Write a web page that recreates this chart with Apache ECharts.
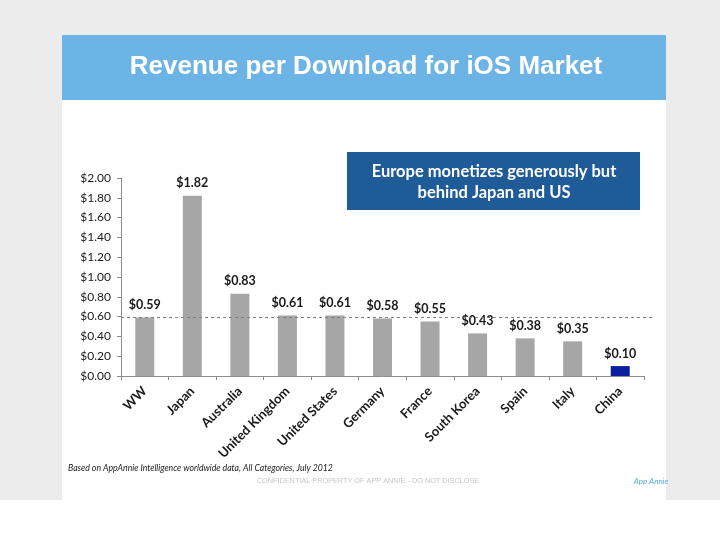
<!DOCTYPE html>
<html>
<head>
<meta charset="utf-8">
<script src="https://cdn.jsdelivr.net/npm/echarts@6/dist/echarts.min.js"></script>
<style>html,body{margin:0;padding:0;background:#fff}#c{width:720px;height:540px}</style>
</head>
<body>
<div id="c"></div>
<script>
const categories = ['WW','Japan','Australia','United Kingdom','United States','Germany','France','South Korea','Spain','Italy','China'];
const revenue = [0.59,1.82,0.83,0.61,0.61,0.58,0.55,0.43,0.38,0.35,0.10];
const highlight = 'China';
const wwAverage = 0.59;

const chart = echarts.init(document.getElementById('c'), null, {renderer:'canvas'});
const font = 'Lato, "Open Sans", sans-serif';
chart.setOption({
  animation:false,
  backgroundColor:'#ffffff',
  graphic:[
    {type:'rect', z:-10, shape:{x:0,y:0,width:720,height:500}, style:{fill:'#ececec'}},
    {type:'rect', z:-9, shape:{x:62,y:35,width:604,height:465}, style:{fill:'#ffffff'}},
    {type:'rect', z:-8, shape:{x:62,y:35,width:604,height:65}, style:{fill:'#6cb3e6'}},
    {type:'text', x:366, y:67, style:{text:'Revenue per Download for iOS Market', fill:'#ffffff', font:'bold 26px "Liberation Sans", Arial, sans-serif', align:'center', verticalAlign:'middle'}},
    {type:'rect', shape:{x:347,y:152,width:293,height:58}, style:{fill:'#1f5b96'}},
    {type:'text', x:494, y:182, style:{text:'Europe monetizes generously but\nbehind Japan and US', fill:'#ffffff', font:'bold 16.5px '+font, align:'center', verticalAlign:'middle', lineHeight:21}},
    {type:'text', x:68, y:468, style:{text:'Based on AppAnnie Intelligence worldwide data, All Categories, July 2012', fill:'#222', font:'italic 8.7px '+font, verticalAlign:'middle'}},
    {type:'text', x:368, y:481, style:{text:'CONFIDENTIAL PROPERTY OF APP ANNIE - DO NOT DISCLOSE', fill:'#c8c8c8', font:'7.3px "Liberation Sans", Arial, sans-serif', align:'center', verticalAlign:'middle'}},
    {type:'text', x:651, y:481, style:{text:'App Annie', fill:'#5aa9dd', font:'italic 8px '+font, align:'center', verticalAlign:'middle'}}
  ],
  grid:{left:121, right:76, top:178, bottom:164, containLabel:false},
  xAxis:{
    type:'category', data:categories,
    axisLine:{lineStyle:{color:'#8c8c8c', width:1}},
    axisTick:{show:true, alignWithLabel:false, length:4, lineStyle:{color:'#8c8c8c'}},
    axisLabel:{rotate:45, interval:0, color:'#1a1a1a', fontFamily:font, fontWeight:'bold', fontSize:13, margin:13}
  },
  yAxis:{
    type:'value', min:0, max:2, interval:0.2,
    splitLine:{show:false},
    axisLine:{show:true, lineStyle:{color:'#8c8c8c', width:1}},
    axisTick:{show:true, length:4, lineStyle:{color:'#8c8c8c'}},
    axisLabel:{color:'#1a1a1a', fontFamily:font, fontSize:12, margin:10,
      formatter:v => '$' + v.toFixed(2)}
  },
  series:[{
    type:'bar', barWidth:19,
    data: revenue.map((v,i)=>({value:v, itemStyle:{color: categories[i]===highlight ? '#0a1f9e' : '#a6a6a6'}})),
    label:{show:true, position:'top', distance:6, color:'#1a1a1a', fontFamily:font, fontWeight:'bold', fontSize:12.5,
      formatter:p => '$' + p.value.toFixed(2)},
    markLine:{
      silent:true, symbol:'none',
      lineStyle:{color:'#7f7f7f', type:[3,3], width:1},
      label:{show:false},
      data:[[{xAxis:0, yAxis:wwAverage, x:121}, {yAxis:wwAverage, x:654}]]
    }
  }]
});
</script>
</body>
</html>
